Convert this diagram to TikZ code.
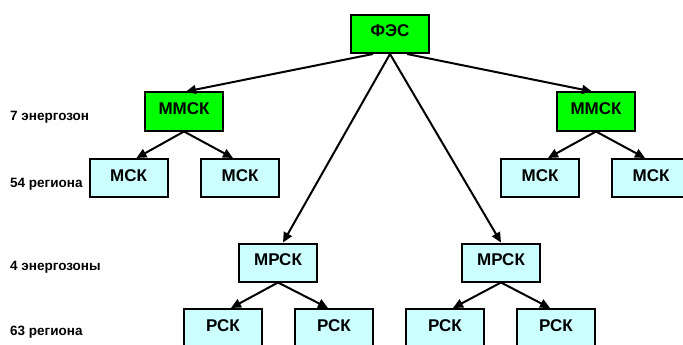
\documentclass[tikz,border=0pt]{standalone}
\usepackage{fontspec}
\setmainfont{Liberation Sans}
\usetikzlibrary{arrows.meta}
\definecolor{boxgreen}{HTML}{00FF00}
\definecolor{boxcyan}{HTML}{CCFFFF}

\begin{document}
\begin{tikzpicture}[x=1pt,y=-1pt,
	box/.style={draw,line width=2pt,inner sep=0,minimum width=78pt,minimum height=38pt,text height=12pt,text depth=6pt,font=\bfseries\fontsize{17}{17}\selectfont},
	top/.style={box,fill=boxgreen},
	low/.style={box,fill=boxcyan},
	lvl/.style={anchor=base west,inner sep=0,font=\bfseries\fontsize{13.5}{13.5}\selectfont},
	arr/.style={line width=2pt,-{Triangle[length=10pt,width=9pt]}}]
	\useasboundingbox (0,0) rectangle (683,345);
	\node[top] (fes) at (390,34) {ФЭС};
	\node[top] (mmsk1) at (184,111.5) {ММСК};
	\node[top] (mmsk2) at (596,111.5) {ММСК};
	\node[low] (msk1) at (128.5,178) {МСК};
	\node[low] (msk2) at (240,178) {МСК};
	\node[low] (msk3) at (540,178) {МСК};
	\node[low] (msk4) at (651,178) {МСК};
	\node[low] (mrsk1) at (278,262.5) {МРСК};
	\node[low] (mrsk2) at (501,262.5) {МРСК};
	\node[low] (rsk1) at (223,328) {РСК};
	\node[low] (rsk2) at (334,328) {РСК};
	\node[low] (rsk3) at (445,328) {РСК};
	\node[low] (rsk4) at (556,328) {РСК};
	% levels
	\node[lvl] (l1) at (10,120) {7 энергозон};
	\node[lvl] (l2) at (10,187) {54 региона};
	\node[lvl] (l3) at (10,270) {4 энергозоны};
	\node[lvl] (l4) at (10,335) {63 региона};
	% arrows
	\draw[arr] ([xshift=-17pt]fes.south) -- ([xshift=2pt]mmsk1.north);
	\draw[arr] ([xshift=17pt]fes.south) -- ([xshift=-4pt]mmsk2.north);
	\draw[arr] (fes.south) -- ([xshift=5pt]mrsk1.north);
	\draw[arr] (fes.south) -- (mrsk2.north);
	\draw[arr] (mmsk1.south) -- ([xshift=8pt]msk1.north);
	\draw[arr] (mmsk1.south) -- ([xshift=-7pt]msk2.north);
	\draw[arr] (mmsk2.south) -- ([xshift=8pt]msk3.north);
	\draw[arr] (mmsk2.south) -- ([xshift=-6pt]msk4.north);
	\draw[arr] (mrsk1.south) -- ([xshift=8pt]rsk1.north);
	\draw[arr] (mrsk1.south) -- ([xshift=-6pt]rsk2.north);
	\draw[arr] (mrsk2.south) -- ([xshift=8pt]rsk3.north);
	\draw[arr] (mrsk2.south) -- ([xshift=-6pt]rsk4.north);
\end{tikzpicture}
\end{document}
